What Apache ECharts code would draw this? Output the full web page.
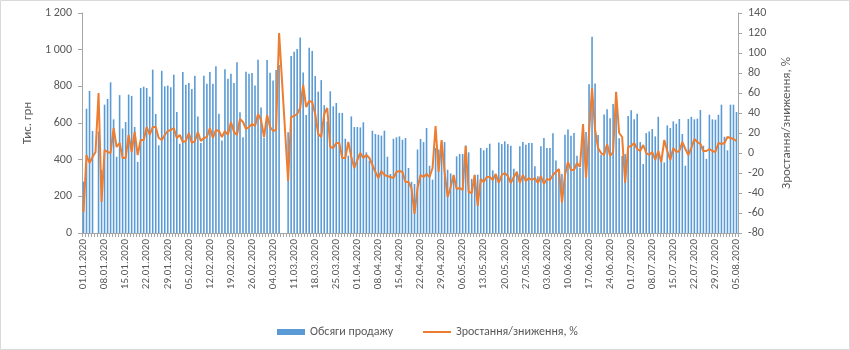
<!DOCTYPE html>
<html><head><meta charset="utf-8">
<script src="https://cdn.jsdelivr.net/npm/echarts@6/dist/echarts.min.js"></script>
<style>html,body{margin:0;padding:0;background:#fff}#c{width:850px;height:350px}</style>
</head><body><div id="c"></div>
<script>
// categories: daily dates 01.01.2020 – 05.08.2020
const monthLengths = [31, 29, 31, 30, 31, 30, 31, 5];
const categories = [];
monthLengths.forEach((n, m) => {
  for (let d = 1; d <= n; d++) {
    categories.push(String(d).padStart(2, '0') + '.' + String(m + 1).padStart(2, '0') + '.2020');
  }
});

const salesName = 'Обсяги продажу';
const growthName = 'Зростання/зниження, %';
const leftAxisName = 'Тис. грн';
const rightAxisName = 'Зростання/зниження, %';

// Обсяги продажу, тис. грн
const sales = [
  280, 678, 775, 556, null, 553, 344, 700, 731, 822,
  620, 416, 752, 570, 605, 755, 748, 578, 388, 791,
  798, 791, 743, 891, 649, 478, 885, 800, 804, 795,
  864, 660, 487, 878, 809, 818, 785, 858, 636, 491,
  858, 814, 878, 814, 909, 651, 505, 893, 842, 869,
  818, 931, 658, 522, 880, 869, 873, 805, 945, 685,
  520, 944, 874, 832, 889, 916, null, null, 549, 966,
  988, 1004, 1067, 875, 644, 1010, 993, 856, 771, 834,
  697, 609, 773, 691, 709, 655, 655, 514, 422, 636,
  578, 578, 576, 604, 440, 395, 558, 540, 536, 531,
  558, 416, 322, 514, 522, 527, 509, 518, 355, 279,
  267, 455, 513, 496, 573, 367, 291, 464, 455, 500,
  496, 345, 325, 309, 418, 431, 431, 478, 440, 295,
  318, 318, 464, 451, 464, 487, 342, 322, 494, 485,
  500, 485, 476, 351, 336, 473, 496, 482, 491, 491,
  364, 309, 473, 518, 464, 464, 544, 395, 331, 322,
  536, 564, 531, 545, 421, 355, 560, 551, 812, 1070,
  816, 535, 428, 647, 675, 626, 704, 771, 517, 420,
  431, 638, 670, 620, 651, 496, 376, 545, 554, 567,
  527, 634, 395, 385, 587, 573, 609, 596, 622, 540,
  367, 622, 634, 620, 624, 671, 476, 404, 645, 620,
  618, 645, 700, 525, 451, 700, 700, 660
];

// Зростання/зниження, %
const growth = [
  -59, -2, -10, -4, 1, 60, -49, 3, 1, 0,
  25, 6, 10, -5, -5, 18, 1, 21, -2, 13,
  13, 26, 18, 26, 26, 15, 13, 18, 22, 23,
  25, 15, 18, 11, 12, 20, 10, 12, 21, 12,
  15, 16, 25, 15, 23, 22, 16, 22, 18, 31,
  21, 18, 34, 31, 24, 26, 29, 27, 39, 33,
  16, 38, 26, 22, 23, 120, null, null, -28, 36,
  37, 39, 45, 68, 46, 52, 51, 39, 19, 16,
  39, 45, 6, 5, 10, 10, -5, -5, 11, -4,
  -15, -7, 0, -5, -2, -5, -12, -19, -25, -18,
  -22, -23, -24, -25, -19, -18, -19, -29, -29, -35,
  -61, -35, -22, -24, -21, -24, -15, 27, -19, 13,
  -19, -44, -34, -22, -36, -35, -37, 7, -39, -40,
  -22, -53, -26, -29, -24, -24, -27, -21, -30, -22,
  -20, -23, -30, -24, -19, -30, -22, -28, -25, -27,
  -25, -30, -23, -31, -26, -27, -22, -19, -16, -50,
  -22, -9, -17, -17, -10, -14, 29, -25, 20, 65,
  23, 5, 0, -2, 9, -3, 1, 61, 20, 16,
  -30, 6, 7, 10, 4, 2, 8, 0, -2, 1,
  -7, 2, -9, 13, 2, -7, 5, 1, 2, 11,
  4, -2, 5, 14, 11, 9, 2, 2, 4, 2,
  1, 10, 9, 10, 16, 15, 14, 12
];

const FONT = "Carlito, Lato, 'Open Sans', 'Noto Sans', sans-serif";
const TXT = '#595959';
const AX = '#A6A6A6';

const chart = echarts.init(document.getElementById('c'), null, {renderer: 'canvas'});
chart.setOption({
  animation: false,
  textStyle: {fontFamily: FONT},
  graphic: [{type: 'rect', shape: {x: 0.5, y: 0.5, width: 849, height: 349},
    style: {fill: 'none', stroke: '#D9D9D9', lineWidth: 1}, silent: true}],
  grid: {left: 82, right: 112, top: 13, bottom: 117, containLabel: false},
  legend: [{
    left: 272, top: 321, itemWidth: 28, itemHeight: 6, icon: 'rect',
    textStyle: {color: TXT, fontSize: 12, fontFamily: FONT},
    data: [salesName]
  }, {
    left: 418, top: 321, itemWidth: 28, itemHeight: 2, icon: 'rect',
    itemStyle: {color: '#ED7D31'},
    textStyle: {color: TXT, fontSize: 12, fontFamily: FONT},
    data: [growthName]
  }],
  xAxis: {
    type: 'category', data: categories, boundaryGap: true,
    axisLine: {lineStyle: {color: AX, width: 1}},
    axisTick: {show: true, interval: 0, length: 4, lineStyle: {color: AX}},
    axisLabel: {interval: 6, rotate: 90, color: TXT, fontSize: 11, margin: 6, fontFamily: FONT},
    splitLine: {show: false}
  },
  yAxis: [{
    type: 'value', min: 0, max: 1200, interval: 200, position: 'left',
    name: leftAxisName, nameLocation: 'middle', nameRotate: 90, nameGap: 46,
    nameTextStyle: {color: TXT, fontSize: 13, fontFamily: FONT},
    axisLine: {show: true, lineStyle: {color: AX}},
    axisTick: {show: true, length: 4, lineStyle: {color: AX}},
    axisLabel: {color: TXT, fontSize: 12, margin: 10, fontFamily: FONT,
      formatter: v => String(v).replace(/\B(?=(\d{3})+(?!\d))/g, ' ')},
    splitLine: {show: false}
  }, {
    type: 'value', min: -80, max: 140, interval: 20, position: 'right',
    name: rightAxisName, nameLocation: 'middle', nameRotate: 90, nameGap: 42,
    nameTextStyle: {color: TXT, fontSize: 13, fontFamily: FONT},
    axisLine: {show: true, lineStyle: {color: AX}},
    axisTick: {show: true, length: 4, lineStyle: {color: AX}},
    axisLabel: {color: TXT, fontSize: 12, margin: 10, fontFamily: FONT},
    splitLine: {show: false}
  }],
  series: [{
    name: salesName, type: 'bar', data: sales, yAxisIndex: 0,
    barWidth: 1.6, itemStyle: {color: '#5B9BD5'}
  }, {
    name: growthName, type: 'line', data: growth, yAxisIndex: 1,
    symbol: 'none', connectNulls: true, smooth: false,
    lineStyle: {color: '#ED7D31', width: 2}, itemStyle: {color: '#ED7D31'}
  }]
});
</script></body></html>
